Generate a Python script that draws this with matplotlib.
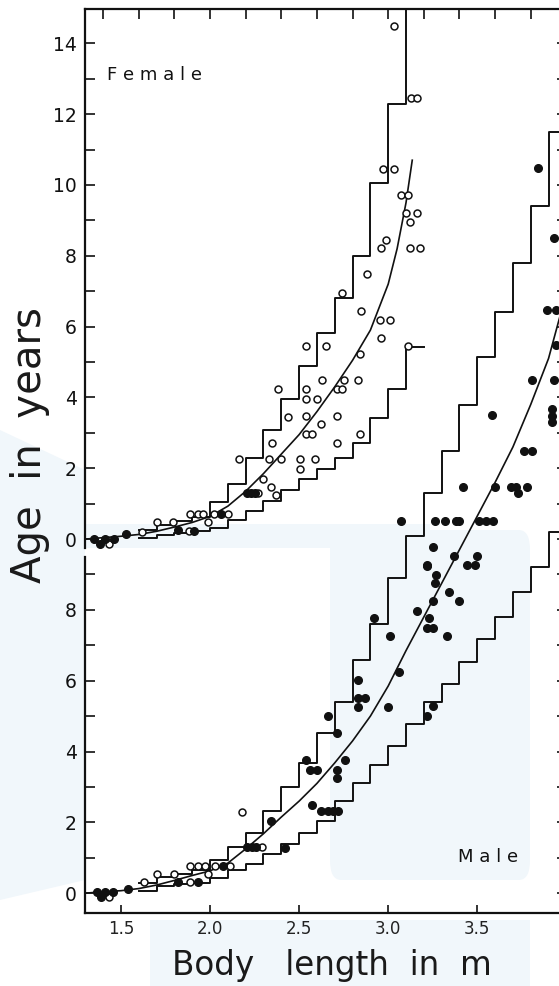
import numpy as np
import matplotlib
matplotlib.use("Agg")
import matplotlib.pyplot as plt
from matplotlib.patches import Rectangle, FancyBboxPatch, Polygon

# female ages are plotted as read; male ages are shifted down by 10 years
MALE_OFFSET = 10.0

# ---- Female (open circles = female, filled = unsexed small animals)
fem_open_len = [3.03, 3.13, 3.16, 2.97, 3.03, 3.07, 3.11, 3.10, 3.16, 3.12, 2.99, 2.96, 3.12, 3.18,
                2.88, 2.74, 2.85, 2.955, 3.01, 2.96, 3.11, 2.54, 2.65, 2.84, 2.63, 2.75, 2.83, 2.38,
                2.54, 2.71, 2.74, 2.54, 2.60, 2.44, 2.54, 2.71, 2.62, 2.54, 2.57, 2.84, 2.35, 2.71,
                2.16, 2.33, 2.40, 2.505, 2.59, 2.505, 2.30, 2.34, 2.27, 2.37, 1.89, 1.93, 1.96, 2.02,
                2.10, 1.99, 1.70, 1.79, 1.62, 1.88, 1.43]
fem_open_age = [14.5, 12.46, 12.46, 10.45, 10.45, 9.72, 9.72, 9.21, 9.21, 8.95, 8.45, 8.22, 8.22, 8.22,
                7.49, 6.95, 6.44, 6.19, 6.19, 5.68, 5.45, 5.45, 5.45, 5.23, 4.49, 4.49, 4.49, 4.24,
                4.24, 4.24, 4.24, 3.95, 3.95, 3.45, 3.47, 3.47, 3.25, 2.97, 2.97, 2.97, 2.71, 2.71,
                2.26, 2.26, 2.26, 2.26, 2.26, 1.98, 1.69, 1.47, 1.30, 1.24, 0.71, 0.71, 0.71, 0.71,
                0.71, 0.48, 0.48, 0.48, 0.2, 0.23, -0.14]
fem_fill_len = [2.21, 2.23, 2.25, 2.06, 1.82, 1.91, 1.53, 1.35, 1.41, 1.46, 1.38]
fem_fill_age = [1.3, 1.3, 1.3, 0.71, 0.25, 0.23, 0.14, 0.0, 0.0, 0.0, -0.14]

fem_curve_len = [1.3, 1.4, 1.5, 1.6, 1.7, 1.8, 1.9, 2.0, 2.1, 2.2, 2.3, 2.4, 2.5, 2.6, 2.7,
                 2.8, 2.9, 3.0, 3.05, 3.1, 3.135]
fem_curve_age = [0.0, 0.04, 0.08, 0.13, 0.22, 0.34, 0.47, 0.64, 0.93, 1.35, 1.85, 2.4, 2.95, 3.6, 4.3,
                 5.05, 5.9, 7.2, 8.2, 9.5, 10.7]

fem_upper_len = [1.6, 1.7, 1.8, 1.9, 2.0, 2.1, 2.2, 2.3, 2.4, 2.5, 2.6, 2.7, 2.8, 2.9, 3.0, 3.1, 3.2]
fem_upper_age = [0.25, 0.4, 0.5, 0.62, 1.05, 1.55, 2.3, 3.08, 3.95, 4.9, 5.82, 6.81, 7.99, 10.06, 12.29, 16.0, 16.0]
fem_lower_len = [1.6, 1.7, 1.8, 1.9, 2.0, 2.1, 2.2, 2.3, 2.4, 2.5, 2.6, 2.7, 2.8, 2.9, 3.0, 3.1, 3.2]
fem_lower_age = [0.03, 0.12, 0.18, 0.22, 0.31, 0.54, 0.78, 1.07, 1.38, 1.69, 1.98, 2.29, 2.71, 3.42, 4.24, 5.42, 5.42]

# ---- Male
male_fill_len = [1.365, 1.41, 1.455, 1.39, 1.54, 1.82, 1.93, 2.07, 2.21, 2.235, 2.26, 2.34, 2.42,
                 2.57, 2.62, 2.66, 2.69, 2.72, 2.54, 2.56, 2.60, 2.71, 2.66, 2.71, 2.71, 2.76,
                 2.83, 2.83, 2.87, 2.83, 3.0, 3.06, 3.01, 3.33, 3.25, 3.22, 3.22, 3.27, 3.26,
                 3.34, 3.25, 3.16, 3.23, 3.22, 3.25, 2.92, 3.58, 3.92, 3.92, 3.92, 3.76, 3.81,
                 3.42, 3.60, 3.69, 3.72, 3.78, 3.73, 3.07, 3.26, 3.32, 3.38, 3.40, 3.51, 3.55,
                 3.59, 3.25, 3.37, 3.50, 3.22, 3.44, 3.49, 3.40, 3.84, 3.93, 3.89, 3.94, 3.94,
                 3.81, 3.93]
male_fill_age = [0.03, 0.03, 0.03, -0.11, 0.11, 0.31, 0.31, 0.76, 1.3, 1.3, 1.3, 2.03, 1.28,
                 2.5, 2.31, 2.31, 2.31, 2.31, 3.75, 3.49, 3.49, 4.51, 5.01, 3.49, 3.24, 3.75,
                 6.03, 5.52, 5.52, 5.27, 5.27, 6.25, 7.27, 7.27, 5.3, 4.99, 9.24, 8.99, 8.76,
                 8.5, 8.25, 7.97, 7.77, 7.49, 7.49, 7.77, 13.49, 13.66, 13.48, 13.3, 12.48, 12.48,
                 11.46, 11.46, 11.46, 11.46, 11.46, 11.3, 10.5, 10.5, 10.5, 10.5, 10.5, 10.5, 10.5,
                 10.5, 9.77, 9.52, 9.52, 9.27, 9.27, 9.27, 8.25, 20.48, 18.5, 16.48, 16.48, 15.49,
                 14.48, 14.48]
male_open_len = [1.43, 1.63, 1.70, 1.80, 1.89, 1.89, 1.93, 1.97, 2.03, 2.11, 1.99, 2.18, 2.29]
male_open_age = [-0.11, 0.31, 0.54, 0.54, 0.31, 0.76, 0.76, 0.76, 0.76, 0.76, 0.54, 2.28, 1.3]

male_curve_len = [1.3, 1.4, 1.5, 1.6, 1.7, 1.8, 1.9, 2.0, 2.1, 2.2, 2.3, 2.4, 2.5, 2.6, 2.7, 2.8,
                  2.9, 3.0, 3.1, 3.2, 3.3, 3.4, 3.5, 3.6, 3.7, 3.8, 3.9, 3.97]
male_curve_age = [0.0, 0.04, 0.07, 0.13, 0.23, 0.36, 0.5, 0.63, 0.85, 1.25, 1.68, 2.15, 2.6, 3.1,
                  3.68, 4.3, 5.0, 5.85, 6.85, 7.8, 8.75, 9.7, 10.65, 11.6, 12.6, 13.8, 15.1, 16.4]

male_upper_len = [1.6, 1.7, 1.8, 1.9, 2.0, 2.1, 2.2, 2.3, 2.4, 2.5, 2.6, 2.7, 2.8, 2.9, 3.0, 3.1,
                  3.2, 3.3, 3.4, 3.5, 3.6, 3.7, 3.8, 3.9, 4.0]
male_upper_age = [0.28, 0.45, 0.55, 0.65, 0.93, 1.30, 1.69, 2.31, 3.0, 3.69, 4.51, 5.41, 6.59, 7.61,
                  8.9, 10.08, 11.3, 12.48, 13.8, 15.13, 16.42, 17.8, 19.41, 21.49, 21.49]
male_lower_len = [1.6, 1.7, 1.8, 1.9, 2.0, 2.1, 2.2, 2.3, 2.4, 2.5, 2.6, 2.7, 2.8, 2.9, 3.0, 3.1,
                  3.2, 3.3, 3.4, 3.5, 3.6, 3.7, 3.8, 3.9, 4.0]
male_lower_age = [0.06, 0.2, 0.25, 0.3, 0.42, 0.65, 0.82, 1.1, 1.4, 1.7, 2.05, 2.6, 3.1, 3.61, 4.17,
                  4.79, 5.41, 5.92, 6.54, 7.18, 7.8, 8.5, 9.21, 10.2, 10.2]

x_ticks = [1.5, 2.0, 2.5, 3.0, 3.5]
x_ticklabels = ["1.5", "2.0", "2.5", "3.0", "3.5"]
top_ticks = [1.4, 1.6, 1.8, 2.0, 2.2, 2.4, 2.6, 2.8, 3.0, 3.2, 3.4, 3.6, 3.8]
fem_ylabels = [0, 2, 4, 6, 8, 10, 12, 14]
male_ylabels = [0, 2, 4, 6, 8]

INK = "#111111"

fig = plt.figure(figsize=(5.59, 9.86), dpi=100)
W, H = 559.0, 986.0

# faint watermark in the background of the scan (kept behind the axes)
wm = "#f1f7fb"
shapes = [
    Polygon([[0, 1 - 430 / H], [85 / W, 1 - 470 / H], [85 / W, 1 - 880 / H], [0, 1 - 900 / H]],
            closed=True),
    Rectangle((0, 1 - 548 / H), 430 / W, 24 / H),
    FancyBboxPatch((330 / W, 1 - 880 / H), 200 / W, 350 / H, boxstyle="round,pad=0,rounding_size=0.02"),
    Rectangle((150 / W, 1 - 990 / H), 380 / W, 70 / H),
]
for p in shapes:
    p.set_transform(fig.transFigure)
    p.set_facecolor(wm)
    p.set_edgecolor("none")
    p.set_zorder(-10)
    fig.patches.append(p)

ax = fig.add_axes([85 / W, 73 / H, 476 / W, 904 / H])
ax.set_facecolor("none")
ax.set_zorder(1)
ax.set_xlim(1.298, 3.97)
ax.set_ylim(-10.56, 14.97)

mo = np.array(male_open_age) - MALE_OFFSET
mf = np.array(male_fill_age) - MALE_OFFSET

# stairs
ax.step(fem_upper_len, fem_upper_age, where="post", color=INK, lw=1.4)
ax.step(fem_lower_len, fem_lower_age, where="post", color=INK, lw=1.4)
ax.step(male_upper_len, np.array(male_upper_age) - MALE_OFFSET, where="post", color=INK, lw=1.4)
ax.step(male_lower_len, np.array(male_lower_age) - MALE_OFFSET, where="post", color=INK, lw=1.4)

# fitted curves
ax.plot(fem_curve_len, fem_curve_age, color=INK, lw=1.2)
ax.plot(male_curve_len, np.array(male_curve_age) - MALE_OFFSET, color=INK, lw=1.2)

# points
ax.plot(fem_open_len, fem_open_age, "o", ms=5, mfc="white", mec=INK, mew=1.1, zorder=4)
ax.plot(fem_fill_len, fem_fill_age, "o", ms=5.5, mfc=INK, mec=INK, zorder=4)
ax.plot(male_open_len, mo, "o", ms=5, mfc="white", mec=INK, mew=1.1, zorder=4)
ax.plot(male_fill_len, mf, "o", ms=5.5, mfc=INK, mec=INK, zorder=4)

# axes frame: left spine broken between the two panels
for s in ["left", "right"]:
    ax.spines[s].set_visible(False)
for s in ["top", "bottom"]:
    ax.spines[s].set_linewidth(1.6)
    ax.spines[s].set_color(INK)
ax.plot([0, 0], [-10.56, -0.5], transform=ax.get_yaxis_transform(), color=INK, lw=1.6, clip_on=False)
ax.plot([0, 0], [-0.25, 14.97], transform=ax.get_yaxis_transform(), color=INK, lw=1.6, clip_on=False)

yt = [v - MALE_OFFSET for v in male_ylabels] + fem_ylabels
ax.set_yticks(yt)
ax.set_yticklabels([str(v) for v in male_ylabels] + [str(v) for v in fem_ylabels])
ax.set_yticks([v for v in range(-9, 14, 2)], minor=True)
ax.tick_params(axis="y", which="both", direction="in", length=7, width=1.2, color=INK,
               labelsize=13.5, pad=6, labelcolor=INK)
ax.set_xticks(x_ticks)
ax.set_xticklabels(x_ticklabels)
ax.tick_params(axis="x", direction="in", length=6, width=1.2, color=INK, labelsize=12,
               pad=5, labelcolor="#222222")

top = ax.secondary_xaxis("top")
top.set_xticks(top_ticks)
top.tick_params(direction="in", length=7, width=1.2, color=INK, labeltop=False)
top.spines["top"].set_visible(False)

right = ax.secondary_yaxis("right")
right.set_yticks(list(range(-10, 15)))
right.tick_params(direction="in", length=3, width=1.2, color=INK, labelright=False)
right.spines["right"].set_visible(False)

ax.text(1.42, 12.97, "F e m a l e", fontsize=13, color=INK, va="baseline", ha="left")
ax.text(3.39, 0.87 - MALE_OFFSET, "M a l e", fontsize=13, color=INK, va="baseline", ha="left")

fig.text(30 / W, 1 - 445 / H, "Age  in  years", rotation=90, fontsize=29,
         color="#1a1a1a", ha="center", va="center")
fig.text(332 / W, 11 / H, "Body   length  in  m", fontsize=23.5, color="#1a1a1a",
         ha="center", va="baseline")

fig.savefig("out.png", dpi=100)
